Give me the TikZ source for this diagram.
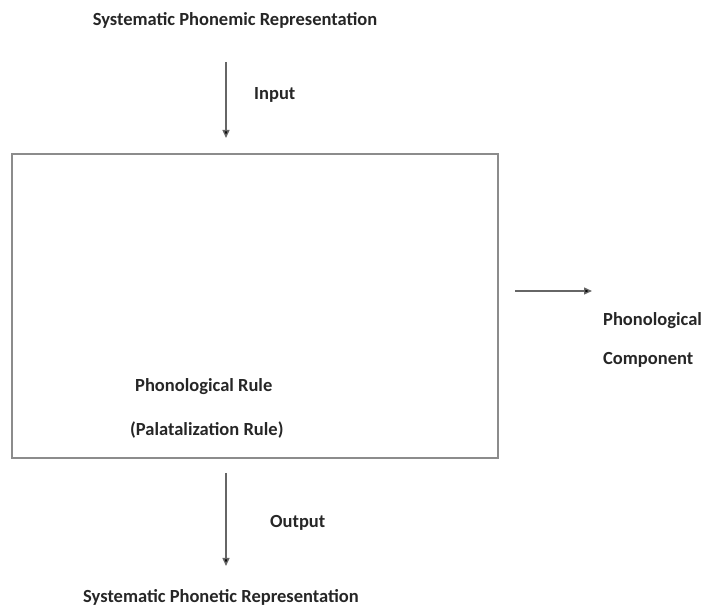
\documentclass[tikz,border=0pt]{standalone}
\usepackage{fontspec}
\setmainfont{Carlito}
\usepackage{tikz}
\usetikzlibrary{arrows.meta,positioning}

\begin{document}
\begin{tikzpicture}[x=1pt,y=-1pt,
   lbl/.style={font=\fontsize{18.5}{22}\selectfont\bfseries,text=black!85,inner sep=0pt},
   flow/.style={draw=black!60,line width=1.4pt,-{Triangle[length=8pt,width=7pt,fill=black]}},
   frame/.style={draw=black!45,line width=2pt}]
  \useasboundingbox (0,0) rectangle (705,609);
  % box
  \draw[frame] (12,154) rectangle (498,458);
  \node[lbl] (top) at (235,20) {Systematic Phonemic Representation};
  \node[lbl] (bot) at (221,597) {Systematic Phonetic Representation};
  % arrows
  \coordinate (inA) at (226,62);
  \coordinate (inB) at (226,138);
  \coordinate (outA) at (226,473);
  \coordinate (outB) at (226,566);
  \coordinate (sideA) at (515,291);
  \coordinate (sideB) at (592,291);
  \draw[flow] (inA) -- (inB);
  \draw[flow] (outA) -- (outB);
  \draw[flow] (sideA) -- (sideB);
  \node[lbl,anchor=west] (inp) at (254,95) {Input};
  \node[lbl,anchor=west] (outp) at (270,523) {Output};
  \node[lbl,anchor=west] (comp1) at (603,321) {Phonological};
  \node[lbl,anchor=west] (comp2) at (603,360) {Component};
  \node[lbl,anchor=west] (rule1) at (135,387) {Phonological Rule};
  \node[lbl,anchor=west] (rule2) at (130,430) {(Palatalization Rule)};
\end{tikzpicture}
\end{document}
